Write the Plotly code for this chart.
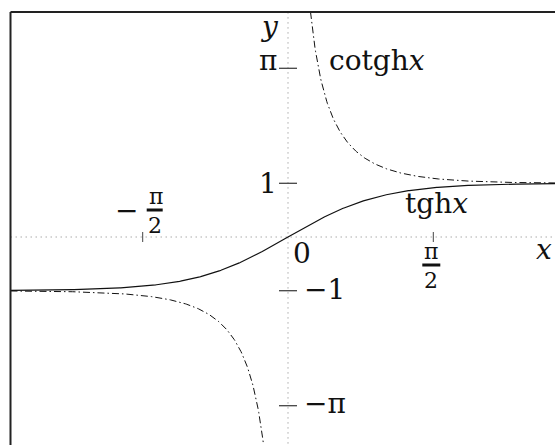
import numpy as np
import plotly.graph_objects as go

PI = np.pi

# Tick positions and their labels
x_tick_values = [-PI / 2, PI / 2]
y_tick_values = [1.0, PI, -1.0, -PI]
y_tick_labels = ["1", "π", "−1", "−π"]

# Domain drawn inside the frame
x_start, x_end = -3.0, 2.95
y_top = 4.19
n_samples = 600

# Screen scale (pixels per unit) used for the axis ranges
PX_X, PX_Y = 92.5, 53.7

# Hyperbolic tangent and cotangent
xs = np.linspace(x_start, x_end, n_samples)
tgh = np.tanh(xs)

x_neg = np.linspace(x_start, -0.05, 400)
x_pos = np.linspace(np.arctanh(1.0 / y_top), x_end, 400)
cot_x = np.concatenate([x_neg, [np.nan], x_pos])
cot_y = np.concatenate([1.0 / np.tanh(x_neg), [np.nan], 1.0 / np.tanh(x_pos)])

SERIF = "DejaVu Serif"
INK = "#111111"

fig = go.Figure()
fig.add_trace(go.Scatter(x=xs, y=tgh, mode="lines",
                         line=dict(color=INK, width=1.2), hoverinfo="skip"))
fig.add_trace(go.Scatter(x=cot_x, y=cot_y, mode="lines", connectgaps=False,
                         line=dict(color=INK, width=1.0, dash="7px,3px,1.5px,3px"),
                         hoverinfo="skip"))

shapes = []
# Dotted coordinate axes
shapes.append(dict(type="line", x0=x_start, x1=x_end + 0.5, y0=0, y1=0,
                   line=dict(color="#aaaaaa", width=1, dash="1.5px,3.5px"), layer="below"))
shapes.append(dict(type="line", x0=0, x1=0, y0=-4.5, y1=y_top,
                   line=dict(color="#aaaaaa", width=1, dash="1.5px,3.5px"), layer="below"))
# Frame (left and top edges)
shapes.append(dict(type="line", x0=x_start, x1=x_start, y0=-4.5, y1=y_top,
                   line=dict(color="#222222", width=2)))
shapes.append(dict(type="line", x0=x_start, x1=x_end + 0.5, y0=y_top, y1=y_top,
                   line=dict(color="#222222", width=2)))
# Tick marks on the y axis
for v in y_tick_values:
    shapes.append(dict(type="line", xsizemode="pixel", xanchor=0, x0=-9, x1=9,
                       y0=v, y1=v, line=dict(color="#444444", width=1.3)))
# Tick marks on the x axis
for v in x_tick_values:
    shapes.append(dict(type="line", ysizemode="pixel", yanchor=0, y0=-5, y1=5,
                       x0=v, x1=v, line=dict(color="#444444", width=1.0)))
# Fraction bars for the pi/2 labels
for v, dy, (dx0, dx1) in [(PI / 2, -28, (-11, 7)), (-PI / 2, 27, (4, 20))]:
    shapes.append(dict(type="rect", x0=float(v + dx0 / PX_X), x1=float(v + dx1 / PX_X),
                       y0=(dy - 1.5) / PX_Y, y1=(dy + 1.5) / PX_Y,
                       fillcolor=INK, line=dict(width=0), layer="above"))

big = dict(family=SERIF, size=28, color=INK)
small = dict(family=SERIF, size=22, color=INK)


def note(text, x, y, font, xshift=0, yshift=0, xanchor="center", xref="x"):
    return dict(text=text, x=x, y=y, xref=xref, yref="y", showarrow=False,
                font=font, xanchor=xanchor, yanchor="middle",
                xshift=xshift, yshift=yshift)


y_label_shift = {"1": (-20, 0), "π": (-20, 8), "−1": (36, 1), "−π": (37, 2)}
annotations = []
for v, lab in zip(y_tick_values, y_tick_labels):
    dx, dy = y_label_shift[lab]
    annotations.append(note(lab, 0, v, big, dx, dy))

annotations += [
    note("0", 0, 0, big, 14, -16),
    note("<i>y</i>", 0, y_top, big, -19, -14),
    note("<i>x</i>", 1, 0, big, -1, -12, xanchor="right", xref="paper"),
    note("cotgh<i>x</i>", 0.42, PI, big, 0, 8, xanchor="left"),
    note("tgh<i>x</i>", 1.24, 0.6, big, 0, 1, xanchor="left"),
    # pi/2 below the axis
    note("π", PI / 2, 0, small, -2, -14),
    note("2", PI / 2, 0, small, -2, -43),
    # -pi/2 above the axis
    note("−", -PI / 2, 0, big, -16, 27),
    note("π", -PI / 2, 0, small, 13, 41),
    note("2", -PI / 2, 0, small, 12, 12),
]

fig.update_layout(
    width=555, height=445,
    margin=dict(l=0, r=0, t=0, b=0),
    paper_bgcolor="white", plot_bgcolor="white",
    showlegend=False,
    font=dict(family=SERIF),
    xaxis=dict(range=[-288 / PX_X, 267 / PX_X], visible=False, fixedrange=True),
    yaxis=dict(range=[-208 / PX_Y, 237 / PX_Y], visible=False, fixedrange=True),
    shapes=shapes,
    annotations=annotations,
)

fig.write_html("out.html")
